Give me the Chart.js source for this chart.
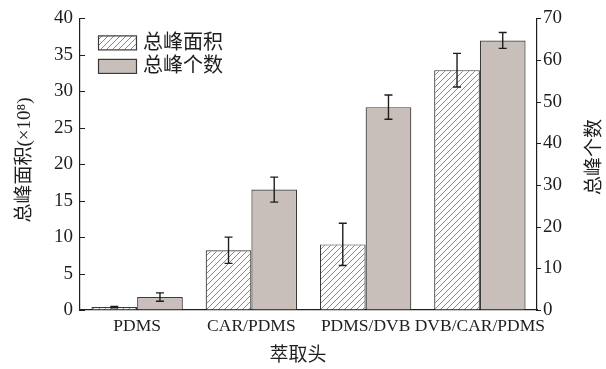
<!DOCTYPE html>
<html>
<head>
<meta charset="utf-8">
<script src="https://cdn.jsdelivr.net/npm/chart.js@4/dist/chart.umd.min.js"></script>
<style>
  html, body { margin: 0; padding: 0; background: #fff; }
  #wrap { width: 606px; height: 369px; position: relative; }
</style>
</head>
<body>
<div id="wrap"><canvas id="c" width="606" height="369"></canvas></div>
<script>
// Fibre coatings and the two measured responses (mean and error)
const categories = ['PDMS', 'CAR/PDMS', 'PDMS/DVB', 'DVB/CAR/PDMS'];
const seriesNames = ['总峰面积', '总峰个数'];
const peakArea = [0.4, 8.2, 9.0, 32.9];        // ×10^8, left axis
const peakAreaErr = [0.1, 1.8, 2.9, 2.3];
const peakCount = [3.1, 28.9, 48.7, 64.7];     // right axis
const peakCountErr = [1.0, 3.0, 2.9, 1.9];
const leftTicks = [0, 5, 10, 15, 20, 25, 30, 35, 40];
const rightTicks = [0, 10, 20, 30, 40, 50, 60, 70];
const xTitle = '萃取头';
const leftTitle = '总峰面积(×10⁸)';
const rightTitle = '总峰个数';

const SERIF = '"Liberation Serif", "Times New Roman", serif';
const CJK = '"Liberation Serif", "Noto Sans CJK SC", serif';
const INK = '#1e1e1e';
const GREY = 'rgb(200,191,186)';

// diagonal hatch used for the peak-area bars
function makeHatch() {
  const s = 6;
  const t = document.createElement('canvas');
  t.width = s; t.height = s;
  const g = t.getContext('2d');
  g.fillStyle = '#fff';
  g.fillRect(0, 0, s, s);
  g.strokeStyle = '#6a6a6a';
  g.lineWidth = 0.8;
  g.beginPath();
  g.moveTo(0, s); g.lineTo(s, 0);
  g.moveTo(-1, 1); g.lineTo(1, -1);
  g.moveTo(s - 1, s + 1); g.lineTo(s + 1, s - 1);
  g.stroke();
  return document.getElementById('c').getContext('2d').createPattern(t, 'repeat');
}
const hatch = makeHatch();

const errors = [peakAreaErr, peakCountErr];

const errorBars = {
  id: 'errorBars',
  afterDatasetsDraw(chart) {
    const ctx = chart.ctx;
    ctx.save();
    ctx.strokeStyle = INK;
    ctx.lineWidth = 1.4;
    chart.data.datasets.forEach((ds, di) => {
      const meta = chart.getDatasetMeta(di);
      const sc = chart.scales[ds.yAxisID];
      meta.data.forEach((bar, i) => {
        const v = ds.data[i], e = errors[di][i];
        const yt = sc.getPixelForValue(v + e);
        const yb = sc.getPixelForValue(v - e);
        const x = bar.x, c = 4;
        ctx.beginPath();
        ctx.moveTo(x, yt); ctx.lineTo(x, yb);
        ctx.moveTo(x - c, yt); ctx.lineTo(x + c, yt);
        ctx.moveTo(x - c, yb); ctx.lineTo(x + c, yb);
        ctx.stroke();
      });
    });
    ctx.restore();
  }
};

const decorations = {
  id: 'decorations',
  afterDraw(chart) {
    const ctx = chart.ctx;
    const a = chart.chartArea;
    const yl = chart.scales.yL, yr = chart.scales.yR;
    ctx.save();
    ctx.strokeStyle = INK;
    ctx.lineWidth = 1.2;
    // tick marks: inward on the left axis, outward on the right axis
    ctx.beginPath();
    leftTicks.forEach(t => {
      const y = Math.round(yl.getPixelForValue(t)) + 0.5;
      ctx.moveTo(a.left, y); ctx.lineTo(a.left + 5, y);
    });
    rightTicks.forEach(t => {
      const y = Math.round(yr.getPixelForValue(t)) + 0.5;
      ctx.moveTo(a.right, y); ctx.lineTo(a.right + 4, y);
    });
    ctx.stroke();

    // axis titles
    ctx.fillStyle = INK;
    ctx.textAlign = 'center';
    ctx.textBaseline = 'middle';
    ctx.font = '19px ' + CJK;
    ctx.fillText(xTitle, 298, 356);

    ctx.save();
    ctx.translate(25, 160);
    ctx.rotate(-Math.PI / 2);
    ctx.fillText(leftTitle, 0, 0);
    ctx.restore();

    ctx.save();
    ctx.translate(595, 157);
    ctx.rotate(-Math.PI / 2);
    ctx.fillText(rightTitle, 0, 0);
    ctx.restore();

    // legend
    const lx = a.left + 18, ly = a.top + 17, bw = 38, bh = 14, gap = 23.5;
    const fills = [hatch, GREY];
    ctx.textAlign = 'left';
    ctx.font = '20px ' + CJK;
    seriesNames.forEach((name, i) => {
      const y = ly + i * gap;
      ctx.fillStyle = fills[i];
      ctx.fillRect(lx, y, bw, bh);
      ctx.lineWidth = 1.2;
      ctx.strokeStyle = '#3a3a3a';
      ctx.strokeRect(lx + 0.5, y + 0.5, bw, bh);
      ctx.fillStyle = INK;
      ctx.fillText(name, lx + bw + 7, y + bh / 2 + 1);
    });
    ctx.restore();
  }
};

new Chart(document.getElementById('c'), {
  type: 'bar',
  data: {
    labels: categories,
    datasets: [
      {
        label: seriesNames[0],
        data: peakArea,
        yAxisID: 'yL',
        backgroundColor: hatch,
        borderColor: '#3a3a3a',
        borderWidth: 1.2,
        categoryPercentage: 0.8,
        barPercentage: 1.0
      },
      {
        label: seriesNames[1],
        data: peakCount,
        yAxisID: 'yR',
        backgroundColor: GREY,
        borderColor: '#3a3a3a',
        borderWidth: 1.2,
        categoryPercentage: 0.8,
        barPercentage: 1.0
      }
    ]
  },
  options: {
    responsive: false,
    devicePixelRatio: 1,
    animation: false,
    layout: { padding: { top: 18, left: 0, right: 0, bottom: 0 } },
    plugins: { legend: { display: false }, tooltip: { enabled: false } },
    scales: {
      x: {
        grid: { display: true, drawOnChartArea: false, drawTicks: false },
        border: { display: true, color: INK, width: 1.2 },
        ticks: {
          color: INK, padding: 6, autoSkip: false, maxRotation: 0, minRotation: 0,
          font: { family: SERIF, size: 17.5 }
        },
        afterFit(s) { s.height = 59; }
      },
      yL: {
        position: 'left',
        min: 0, max: 40,
        afterBuildTicks(s) { s.ticks = leftTicks.map(v => ({ value: v })); },
        grid: { display: true, drawOnChartArea: false, drawTicks: false },
        border: { display: true, color: INK, width: 1.2 },
        ticks: { color: INK, padding: 7, font: { family: SERIF, size: 19 } },
        afterFit(s) { s.width = 80; }
      },
      yR: {
        position: 'right',
        min: 0, max: 70,
        afterBuildTicks(s) { s.ticks = rightTicks.map(v => ({ value: v })); },
        grid: { display: true, drawOnChartArea: false, drawTicks: false },
        border: { display: true, color: INK, width: 1.2 },
        ticks: { color: INK, padding: 6, font: { family: SERIF, size: 19 } },
        afterFit(s) { s.width = 69; }
      }
    }
  },
  plugins: [errorBars, decorations]
});
</script>
</body>
</html>
